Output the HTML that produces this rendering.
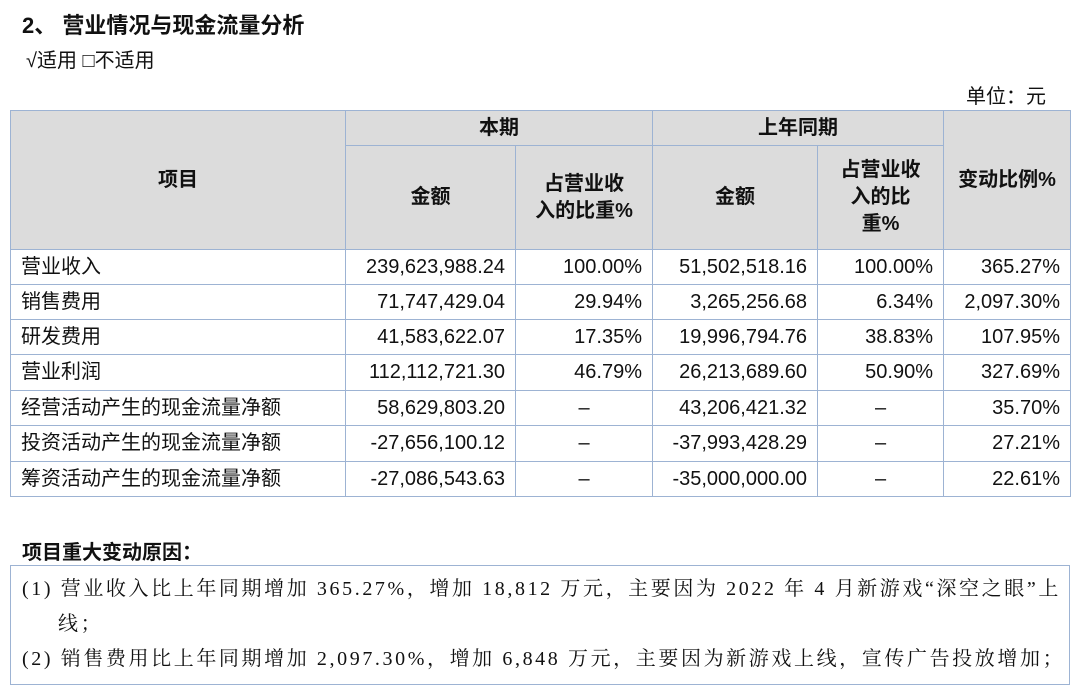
<!DOCTYPE html>
<html><head><meta charset="utf-8"><style>
body{margin:0;width:1080px;height:671px;background:#fff;position:relative;overflow:hidden;font-family:"Liberation Sans","Noto Sans CJK SC",sans-serif;color:#111}
.a{position:absolute;white-space:nowrap}
.c{position:absolute;box-sizing:border-box;border:1px solid #9db3d3;display:flex;align-items:center;font-size:20px;line-height:1.35}
.h{background:#dcdcdc;justify-content:center;text-align:center;font-weight:bold}
.r{justify-content:flex-end;padding-right:10px}
.l{padding-left:10px}
.m{justify-content:center}
.s{font-family:"Liberation Serif","Noto Serif CJK SC",serif;font-size:20px;letter-spacing:2.6px}
</style></head><body>
<div class="a" style="left:22px;top:8px;font-size:22px;font-weight:bold">2、 营业情况与现金流量分析</div>
<div class="a" style="left:26px;top:44px;font-size:20px">√适用 □不适用</div>
<div class="a" style="left:966px;top:80px;font-size:20px">单位：元</div>
<div id="t"></div>
<div class="a" style="left:22px;top:536px;font-size:20px;font-weight:bold">项目重大变动原因：</div>
<div class="a" style="left:10px;top:565px;width:1060px;height:120px;border:1px solid #9db3d3;box-sizing:border-box"></div>
<div class="a s" style="left:22px;top:572px">(1) 营业收入比上年同期增加 365.27%，增加 18,812 万元，主要因为 2022 年 4 月新游戏“深空之眼”上</div>
<div class="a s" style="left:58px;top:607px">线；</div>
<div class="a s" style="left:22px;top:642px">(2) 销售费用比上年同期增加 2,097.30%，增加 6,848 万元，主要因为新游戏上线，宣传广告投放增加；</div>
<script>
var X=[10,345,515,652,817,943,1070];
var t=document.getElementById('t'),h='';
function cell(x1,y1,x2,y2,cls,txt){h+='<div class="c '+cls+'" style="left:'+x1+'px;top:'+y1+'px;width:'+(x2-x1+1)+'px;height:'+(y2-y1+1)+'px">'+txt+'</div>';}
cell(10,110,345,249,'h','项目');
cell(345,110,652,145,'h','本期');
cell(652,110,943,145,'h','上年同期');
cell(943,110,1070,249,'h','变动比例%');
cell(345,145,515,249,'h','金额');
cell(515,145,652,249,'h','占营业收<br>入的比重%');
cell(652,145,817,249,'h','金额');
cell(817,145,943,249,'h','占营业收<br>入的比<br>重%');
var rows=[["营业收入","239,623,988.24","100.00%","51,502,518.16","100.00%","365.27%"],
["销售费用","71,747,429.04","29.94%","3,265,256.68","6.34%","2,097.30%"],
["研发费用","41,583,622.07","17.35%","19,996,794.76","38.83%","107.95%"],
["营业利润","112,112,721.30","46.79%","26,213,689.60","50.90%","327.69%"],
["经营活动产生的现金流量净额","58,629,803.20","–","43,206,421.32","–","35.70%"],
["投资活动产生的现金流量净额","-27,656,100.12","–","-37,993,428.29","–","27.21%"],
["筹资活动产生的现金流量净额","-27,086,543.63","–","-35,000,000.00","–","22.61%"]];
var Y=[249,284,319,354,390,425,461,496];
rows.forEach(function(r,i){for(var j=0;j<6;j++){var cls=j==0?'l':((j==2||j==4)&&r[j]=='–'?'m':'r');cell(X[j],Y[i],X[j+1],Y[i+1],cls,r[j]);}});
t.innerHTML=h;
</script>
</body></html>
